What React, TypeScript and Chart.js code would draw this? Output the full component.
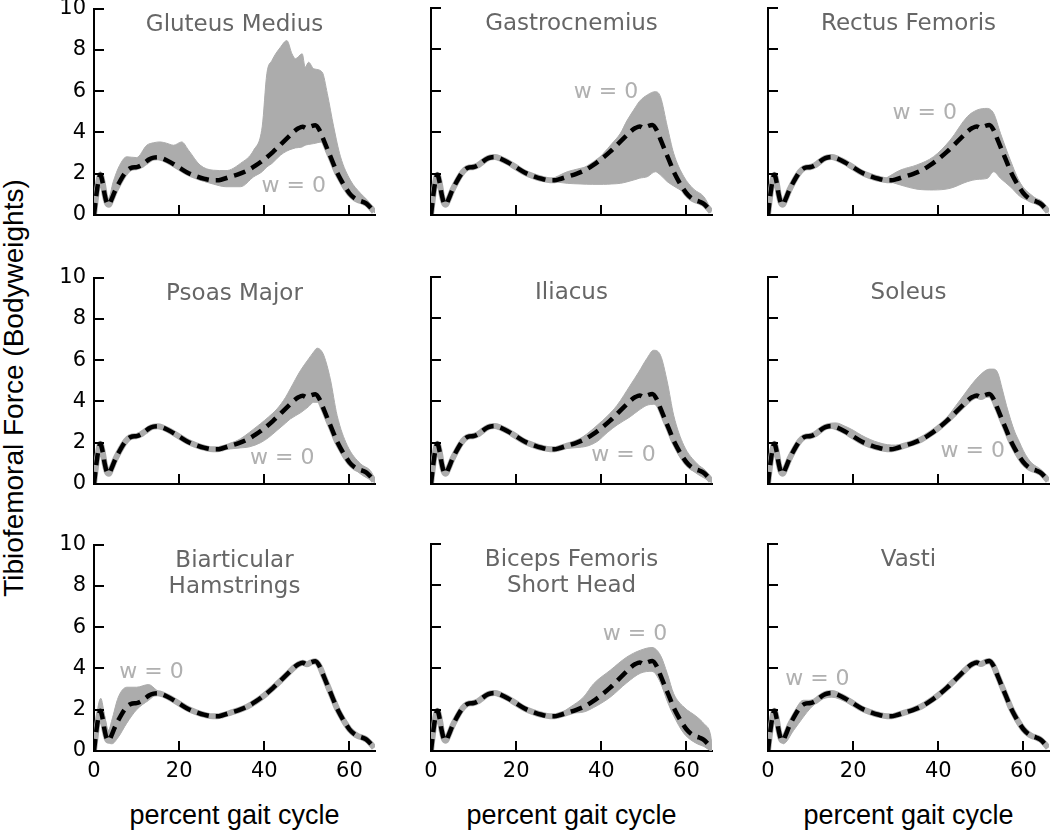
import React, { useEffect, useRef } from "react";
import { Chart, registerables } from "chart.js";

Chart.register(...registerables);

// ---------- data ----------
const gaitX = [0, 0.5, 1, 1.5, 2, 2.5, 3, 3.5, 4, 5, 6, 7, 8, 9, 10, 11, 12, 13, 14, 15, 16, 18, 20, 22, 24, 26, 28, 29, 30, 32, 34, 36, 38, 40, 42, 44, 46, 47, 48, 49, 50, 51, 52, 53, 54, 55, 56, 57, 58, 59, 60, 61, 62, 63, 64, 65, 65.8];
const meanForce = [0, 0.9, 1.6, 1.95, 1.6, 1.0, 0.6, 0.5, 0.7, 1.2, 1.6, 1.95, 2.2, 2.3, 2.32, 2.4, 2.55, 2.7, 2.78, 2.8, 2.75, 2.55, 2.3, 2.05, 1.88, 1.75, 1.68, 1.68, 1.72, 1.85, 1.98, 2.15, 2.4, 2.7, 3.05, 3.45, 3.85, 4.05, 4.2, 4.28, 4.2, 4.3, 4.35, 4.1, 3.6, 3.1, 2.6, 2.1, 1.7, 1.35, 1.05, 0.85, 0.72, 0.65, 0.55, 0.35, 0.15];

const xTickValues = [0, 20, 40, 60];
const yTickValues = [0, 2, 4, 6, 8, 10];

const gluteusX = [0, 0.5, 1.5, 2.5, 3.4, 4.5, 6, 7.7, 10, 12.4, 14, 15.5, 17, 18.7, 20.6, 22.2, 24.9, 28, 31, 34.4, 37.5, 39.5, 40.6, 41.8, 43.8, 45.3, 46.5, 47.3, 48.9, 49.6, 50.4, 51.6, 53.6, 54.8, 56.3, 57.9, 60.2, 62.6, 64.2, 66];
const gluteusUpper = [0.3, 1.3, 2.1, 1.3, 0.8, 1.6, 2.4, 2.82, 2.78, 3.38, 3.5, 3.54, 3.48, 3.38, 3.54, 3.14, 2.42, 2.17, 2.15, 2.5, 3.14, 4.27, 6.85, 7.49, 8.13, 8.45, 7.81, 7.57, 7.81, 7.16, 7.4, 7.09, 6.92, 5.88, 4.27, 2.82, 1.69, 1.05, 0.72, 0.24];
const gluteusLower = [0, 0.6, 1.8, 0.8, 0.45, 1.0, 1.55, 2.05, 2.28, 2.5, 2.72, 2.7, 2.6, 2.45, 2.1, 1.95, 1.7, 1.5, 1.37, 1.37, 1.85, 2.1, 2.33, 2.5, 2.9, 3.1, 3.2, 3.25, 3.3, 3.38, 3.42, 3.46, 3.54, 3.0, 2.2, 1.69, 0.95, 0.6, 0.45, 0.1];

const gastrocX = [28, 30, 32, 35, 38, 40.5, 42.5, 44.5, 46, 47.6, 49, 50.8, 52.7, 53.9, 55.5, 57, 59.4, 61.7, 64.1, 65.8];
const gastrocUpper = [1.7, 1.9, 2.09, 2.25, 2.45, 2.98, 3.45, 3.95, 4.55, 5.07, 5.5, 5.8, 5.96, 5.71, 4.27, 2.98, 1.85, 1.25, 0.88, 0.25];
const gastrocLower = [1.66, 1.58, 1.53, 1.5, 1.48, 1.48, 1.5, 1.53, 1.6, 1.69, 1.78, 1.85, 2.09, 1.93, 1.61, 1.4, 1.1, 0.75, 0.45, 0.1];

const rectusX = [27.9, 31.1, 35, 38.9, 42.8, 46.8, 49.1, 51.5, 53, 54.6, 56.9, 59.3, 62.4, 64.8, 65.9];
const rectusUpper = [1.8, 2.17, 2.42, 2.82, 3.62, 4.75, 5.07, 5.15, 4.91, 3.95, 2.66, 1.53, 0.88, 0.57, 0.16];
const rectusLower = [1.66, 1.45, 1.25, 1.21, 1.29, 1.61, 1.72, 1.77, 2.09, 1.77, 1.37, 0.88, 0.6, 0.35, 0.06];

const psoasX = [29.6, 32, 34.4, 36.5, 39.1, 41, 43, 45, 46.1, 48.5, 50.4, 51.6, 52.4, 53.2, 54, 55.5, 57.1, 59.5, 62.6, 64.9, 66];
const psoasUpper = [1.72, 1.95, 2.19, 2.5, 2.92, 3.25, 3.64, 4.2, 4.61, 5.5, 6.06, 6.4, 6.58, 6.5, 6.22, 5.09, 3.32, 1.86, 0.98, 0.65, 0.25];
const psoasLower = [1.66, 1.7, 1.75, 1.8, 2.0, 2.25, 2.6, 2.95, 3.15, 3.45, 3.75, 3.96, 3.96, 3.96, 3.5, 2.7, 1.86, 1.1, 0.49, 0.2, 0.05];

const iliacusX = [29.6, 32, 34.3, 36.5, 39, 41.5, 43.7, 46.8, 48.8, 50.7, 52.3, 53.9, 55.5, 57, 59.4, 62.5, 64.5, 66];
const iliacusUpper = [1.74, 1.9, 2.1, 2.4, 2.83, 3.3, 3.8, 4.77, 5.41, 6.06, 6.46, 6.22, 4.93, 3.32, 1.86, 0.98, 0.65, 0.25];
const iliacusLower = [1.66, 1.72, 1.76, 1.82, 2.05, 2.5, 2.85, 3.25, 3.56, 3.8, 3.85, 3.5, 2.7, 1.86, 1.05, 0.49, 0.25, 0.05];

const soleusX = [10, 12, 14, 16, 18, 20, 22, 24, 26, 28, 30, 32, 34, 36, 38, 40, 42, 44, 46, 48, 50, 52, 53, 54, 55, 56, 57, 58, 59, 60, 61, 62, 63, 64, 65, 65.8];
const soleusUpper = [2.32, 2.65, 2.9, 2.95, 2.8, 2.6, 2.35, 2.15, 2.0, 1.9, 1.88, 1.95, 2.05, 2.2, 2.45, 2.78, 3.2, 3.75, 4.3, 4.85, 5.3, 5.55, 5.55, 5.35, 4.6, 3.8, 3.1, 2.5, 2.05, 1.6, 1.25, 1.0, 0.85, 0.72, 0.45, 0.2];
const soleusLower = [2.32, 2.55, 2.75, 2.72, 2.5, 2.25, 2.0, 1.82, 1.68, 1.6, 1.62, 1.8, 1.95, 2.12, 2.38, 2.68, 3.02, 3.4, 3.8, 4.1, 4.15, 4.2, 4.0, 3.5, 2.9, 2.4, 1.95, 1.6, 1.3, 1.0, 0.8, 0.68, 0.6, 0.5, 0.3, 0.12];

const hamstringsX = [0, 0.7, 1.6, 2.5, 3.4, 4.2, 5.7, 7.7, 10, 12.8, 14.8, 16.5];
const hamstringsUpper = [0.3, 1.8, 2.55, 1.7, 1.0, 1.5, 2.6, 3.09, 3.09, 3.22, 2.93, 2.7];
const hamstringsLower = [0, 1.2, 1.9, 1.0, 0.45, 0.35, 0.67, 1.35, 2.0, 2.45, 2.72, 2.7];

const bicepsX = [29.6, 32.7, 35.8, 38.2, 42.1, 46, 49.2, 51.9, 53.9, 55.5, 57, 59.4, 62.5, 64.1, 65.6, 66];
const bicepsUpper = [1.7, 2.12, 2.6, 3.25, 3.9, 4.54, 4.87, 5.0, 4.62, 3.74, 2.77, 2.12, 1.64, 1.32, 0.83, 0.3];
const bicepsLower = [1.64, 1.82, 1.88, 2.1, 2.6, 3.3, 3.76, 3.85, 3.3, 2.4, 1.7, 0.85, 0.35, 0.22, 0.02, 0];

const vastiX = [2, 3.6, 6, 8.3, 9.9, 12.2, 15, 18.5, 23.2, 27.9, 31];
const vastiUpper = [1.6, 0.67, 1.8, 2.45, 2.45, 2.6, 2.85, 2.6, 2.04, 1.75, 1.8];
const vastiLower = [1.4, 0.35, 0.99, 1.64, 2.05, 2.45, 2.6, 2.35, 1.9, 1.62, 1.78];

const muscleTitles = [
  ["Gluteus Medius"], ["Gastrocnemius"], ["Rectus Femoris"],
  ["Psoas Major"], ["Iliacus"], ["Soleus"],
  ["Biarticular", "Hamstrings"], ["Biceps Femoris", "Short Head"], ["Vasti"],
];
const bandXs = [gluteusX, gastrocX, rectusX, psoasX, iliacusX, soleusX, hamstringsX, bicepsX, vastiX];
const bandUppers = [gluteusUpper, gastrocUpper, rectusUpper, psoasUpper, iliacusUpper, soleusUpper, hamstringsUpper, bicepsUpper, vastiUpper];
const bandLowers = [gluteusLower, gastrocLower, rectusLower, psoasLower, iliacusLower, soleusLower, hamstringsLower, bicepsLower, vastiLower];

const wLabelX = [46.9, 41.1, 36.8, 44.2, 45.2, 48.1, 13.5, 47.9, 11.6];
const wLabelY = [1.45, 6.0, 4.94, 1.3, 1.43, 1.62, 3.85, 5.7, 3.5];

// ---------- layout ----------
const COL_LEFT = [94, 431, 768];
const ROW_TOP = [8, 277, 544];
const PLOT_W = 281;
const PLOT_H = 207;
const PAD_L = 60;
const PAD_T = 20;
const PAD_R = 20;
const PAD_B = 40;

const BAND = "#acacac";
const W_COLOR = "#b0b0b0";
const TITLE_COLOR = "#666666";
const FONT = "'DejaVu Sans', sans-serif";

const toPts = (xs: number[], ys: number[]) => xs.map((x, i) => ({ x, y: ys[i] }));

const inwardTicks = {
  id: "inwardTicks",
  afterDraw(chart: any) {
    const { ctx, chartArea: a, scales } = chart;
    const xs = scales.x;
    const ys = scales.y;
    ctx.save();
    ctx.strokeStyle = "#000";
    ctx.lineWidth = 2;
    ctx.beginPath();
    xs.ticks.forEach((t: any) => {
      const px = Math.round(xs.getPixelForValue(t.value));
      ctx.moveTo(px, a.bottom);
      ctx.lineTo(px, a.bottom - 10);
    });
    ys.ticks.forEach((t: any) => {
      const py = Math.round(ys.getPixelForValue(t.value));
      ctx.moveTo(a.left, py);
      ctx.lineTo(a.left + 10, py);
    });
    ctx.stroke();
    ctx.restore();
  },
};

function Panel({ idx }: { idx: number }) {
  const ref = useRef<HTMLCanvasElement>(null);
  const row = Math.floor(idx / 3);
  const col = idx % 3;
  const cw = PAD_L + PLOT_W + PAD_R;
  const ch = PAD_T + PLOT_H + PAD_B;

  useEffect(() => {
    const labels = {
      id: "panelLabels",
      afterDatasetsDraw(chart: any) {
        const { ctx, chartArea: a, scales } = chart;
        ctx.save();
        ctx.font = `23px ${FONT}`;
        ctx.textAlign = "center";
        ctx.textBaseline = "alphabetic";
        ctx.fillStyle = TITLE_COLOR;
        const cx = (a.left + a.right) / 2;
        muscleTitles[idx].forEach((line, i) => {
          ctx.fillText(line, cx, a.top + 22 + i * 26);
        });
        ctx.font = `22px ${FONT}`;
        ctx.fillStyle = W_COLOR;
        ctx.textBaseline = "middle";
        ctx.fillText(
          "w = 0",
          scales.x.getPixelForValue(wLabelX[idx]),
          scales.y.getPixelForValue(wLabelY[idx]) + 1
        );
        ctx.restore();
      },
    };

    const chart = new Chart(ref.current as HTMLCanvasElement, {
      type: "line",
      data: {
        datasets: [
          {
            data: toPts(gaitX, meanForce),
            borderColor: "#000",
            borderWidth: 4.5,
            borderDash: [12, 7],
            pointRadius: 0,
            fill: false,
            order: 0,
            cubicInterpolationMode: "monotone",
          },
          {
            data: toPts(gaitX, meanForce),
            borderColor: BAND,
            borderWidth: 6,
            pointRadius: 0,
            fill: false,
            order: 1,
            cubicInterpolationMode: "monotone",
          },
          {
            data: toPts(bandXs[idx], bandUppers[idx]),
            borderColor: BAND,
            borderWidth: 1,
            pointRadius: 0,
            fill: false,
            order: 2,
            cubicInterpolationMode: "monotone",
          },
          {
            data: toPts(bandXs[idx], bandLowers[idx]),
            borderColor: BAND,
            backgroundColor: BAND,
            borderWidth: 1,
            pointRadius: 0,
            fill: 2,
            order: 3,
            cubicInterpolationMode: "monotone",
          },
        ],
      } as any,
      options: {
        animation: false,
        responsive: false,
        maintainAspectRatio: false,
        events: [],
        layout: { padding: { top: PAD_T, right: PAD_R, left: 0, bottom: 0 } },
        plugins: {
          legend: { display: false },
          tooltip: { enabled: false },
          title: { display: false },
        },
        scales: {
          x: {
            type: "linear",
            min: 0,
            max: 66,
            position: "bottom",
            afterBuildTicks: (s: any) => {
              s.ticks = xTickValues.map((v) => ({ value: v }));
            },
            afterFit: (s: any) => {
              s.height = PAD_B;
            },
            grid: { display: false, drawTicks: false },
            border: { display: true, color: "#000", width: 2 },
            ticks: {
              display: row === 2,
              color: "#000",
              font: { family: FONT, size: 21 },
              padding: 8,
              maxRotation: 0,
              autoSkip: false,
            },
          },
          y: {
            type: "linear",
            min: 0,
            max: 10,
            position: "left",
            afterBuildTicks: (s: any) => {
              s.ticks = yTickValues.map((v) => ({ value: v }));
            },
            afterFit: (s: any) => {
              s.width = PAD_L;
            },
            grid: { display: false, drawTicks: false },
            border: { display: true, color: "#000", width: 2 },
            ticks: {
              display: col === 0,
              color: "#000",
              font: { family: FONT, size: 21 },
              padding: 8,
              autoSkip: false,
            },
          },
        },
      } as any,
      plugins: [inwardTicks, labels],
    });
    return () => chart.destroy();
  }, [idx]);

  return (
    <canvas
      ref={ref}
      width={cw}
      height={ch}
      style={{
        position: "absolute",
        left: COL_LEFT[col] - PAD_L,
        top: ROW_TOP[row] - PAD_T,
        width: cw,
        height: ch,
      }}
    />
  );
}

export default function App() {
  return (
    <div
      style={{
        position: "absolute",
        left: 0,
        top: 0,
        width: 1050,
        height: 837,
        overflow: "hidden",
        background: "#fff",
      }}
    >
      {muscleTitles.map((_, i) => (
        <Panel key={i} idx={i} />
      ))}
      <div
        style={{
          position: "absolute",
          left: 14 - 300,
          top: 388 - 15,
          width: 600,
          height: 30,
          lineHeight: "30px",
          textAlign: "center",
          transform: "rotate(-90deg)",
          fontFamily: "'Liberation Sans', Arial, sans-serif",
          fontSize: 28,
          color: "#000",
          whiteSpace: "nowrap",
        }}
      >
        Tibiofemoral Force (Bodyweights)
      </div>
      {COL_LEFT.map((left, i) => (
        <div
          key={i}
          style={{
            position: "absolute",
            left: left + PLOT_W / 2 - 150,
            top: 802,
            width: 300,
            lineHeight: "27px",
            textAlign: "center",
            fontFamily: "'Liberation Sans', Arial, sans-serif",
            fontSize: 27,
            color: "#000",
            whiteSpace: "nowrap",
          }}
        >
          percent gait cycle
        </div>
      ))}
    </div>
  );
}
